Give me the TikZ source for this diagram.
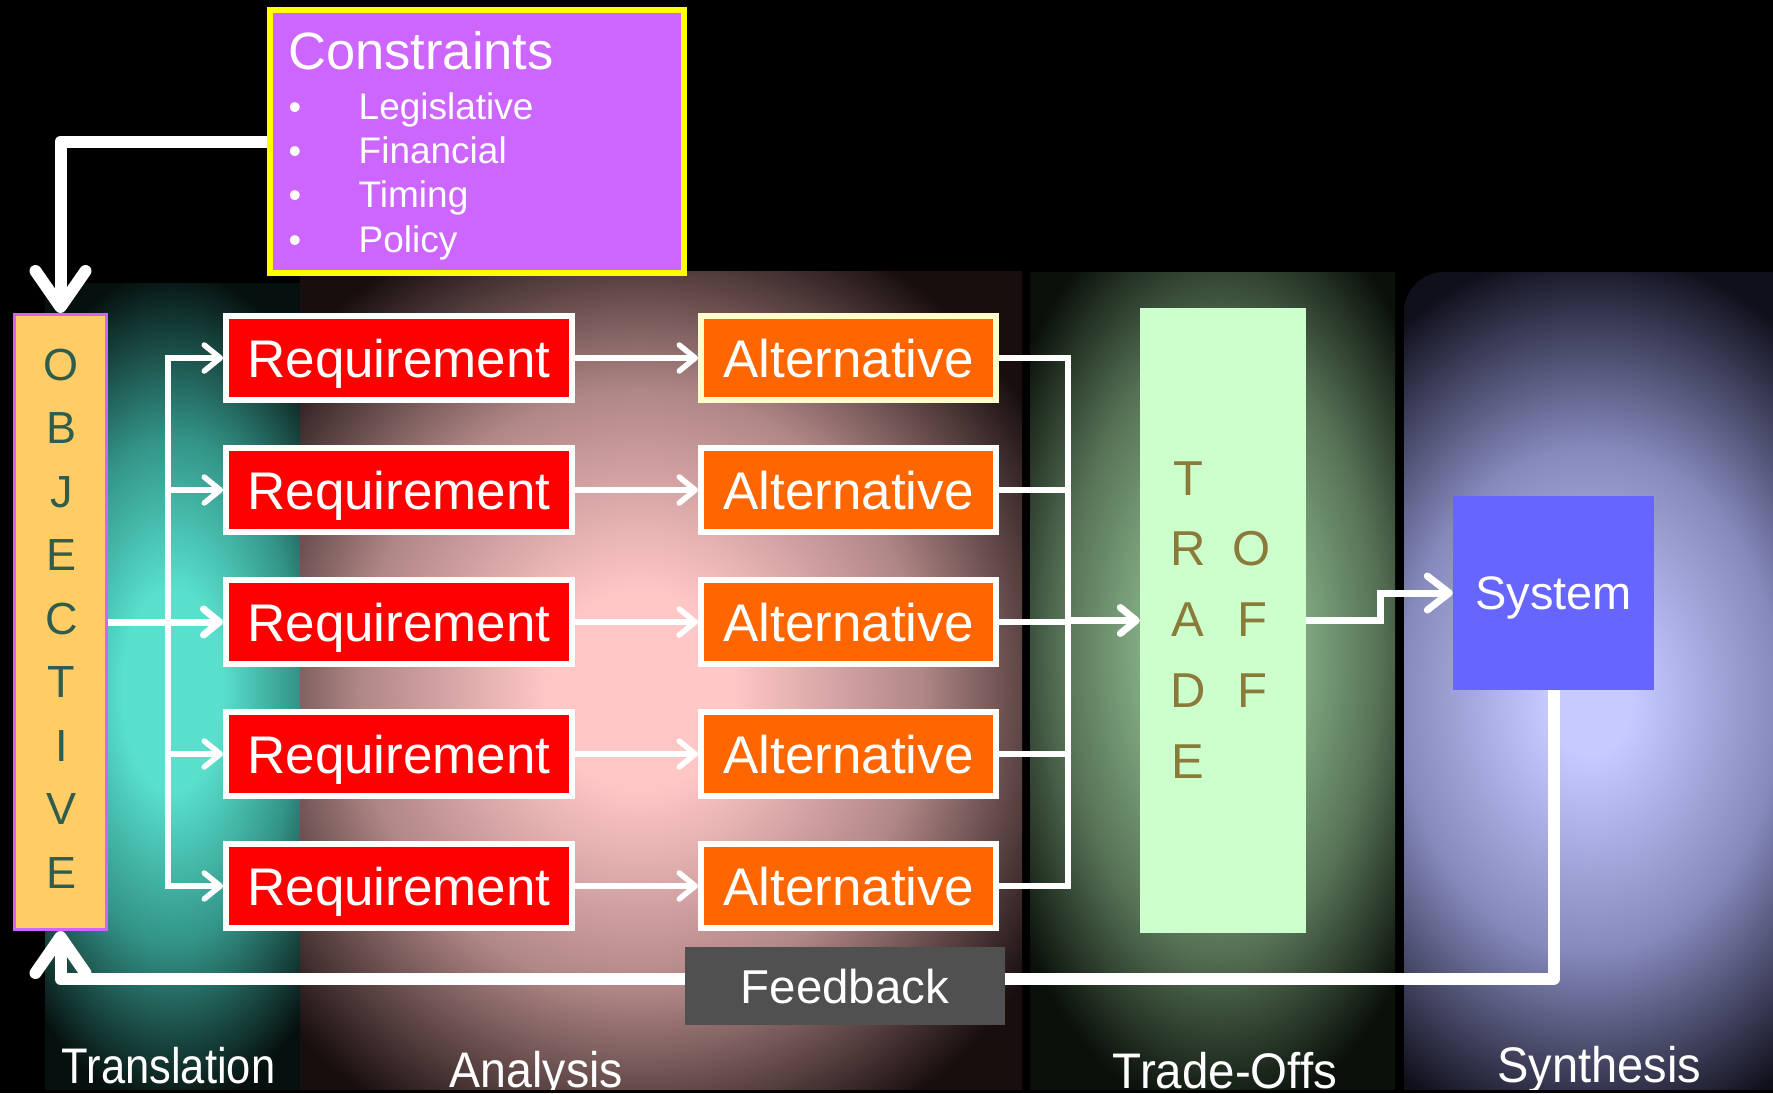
\documentclass[tikz,border=0pt]{standalone}
\usepackage{fontspec}
\setmainfont{Liberation Sans}
\usetikzlibrary{arrows.meta}

% box colours
\definecolor{consfill}{HTML}{CC66FF}
\definecolor{consedge}{HTML}{FFFF00}
\definecolor{objfill}{HTML}{FFCC66}
\definecolor{objedge}{HTML}{CC66FF}
\definecolor{objtext}{HTML}{2F5D4D}
\definecolor{reqfill}{HTML}{FF0000}
\definecolor{altfill}{HTML}{FF6600}
\definecolor{altedge}{HTML}{FFFFCC}
\definecolor{tofill}{HTML}{CCFFCC}
\definecolor{totext}{HTML}{8A7B3A}
\definecolor{sysfill}{HTML}{6666FF}
\definecolor{fbfill}{HTML}{505050}

% phase panel glows
\definecolor{tealA}{HTML}{58E0CC}
\definecolor{tealB}{HTML}{339488}
\definecolor{tealC}{HTML}{06100E}
\definecolor{pinkA}{HTML}{FFC6C6}
\definecolor{pinkB}{HTML}{B08686}
\definecolor{pinkC}{HTML}{180E0E}
\definecolor{greenA}{HTML}{8CB88C}
\definecolor{greenB}{HTML}{567256}
\definecolor{greenC}{HTML}{0A100A}
\definecolor{lilacA}{HTML}{C6CAFF}
\definecolor{lilacB}{HTML}{8589BC}
\definecolor{lilacC}{HTML}{10101C}

\pgfdeclareradialshading{tealglow}{\pgfpoint{0bp}{0bp}}{color(0bp)=(tealA); color(6bp)=(tealA); color(15bp)=(tealB); color(25bp)=(tealC); color(50bp)=(tealC)}
\pgfdeclareradialshading{pinkglow}{\pgfpoint{0bp}{0bp}}{color(0bp)=(pinkA); color(5bp)=(pinkA); color(15bp)=(pinkB); color(25bp)=(pinkC); color(50bp)=(pinkC)}
\pgfdeclareradialshading{greenglow}{\pgfpoint{0bp}{0bp}}{color(0bp)=(greenA); color(6bp)=(greenA); color(16bp)=(greenB); color(25bp)=(greenC); color(50bp)=(greenC)}
\pgfdeclareradialshading{lilacglow}{\pgfpoint{0bp}{0bp}}{color(0bp)=(lilacA); color(3bp)=(lilacA); color(14bp)=(lilacB); color(25bp)=(lilacC); color(50bp)=(lilacC)}

\pgfdeclarelayer{panels}
\pgfdeclarelayer{links}
\pgfsetlayers{panels,links,main}

\tikzset{
  box/.style={rectangle, inner sep=0pt, text depth=0pt, text=white},
  consbox/.style={box, fill=consfill, draw=consedge, line width=6pt,
    minimum width=414pt, minimum height=263pt},
  objbox/.style={box, fill=objfill, draw=objedge, line width=3pt,
    minimum width=92pt, minimum height=615pt},
  reqbox/.style={box, fill=reqfill, draw=white, line width=6pt,
    minimum width=346pt, minimum height=84pt, font=\fontsize{53}{60}\selectfont},
  altbox/.style={reqbox, fill=altfill, minimum width=295pt},
  tobox/.style={box, fill=tofill, minimum width=166pt, minimum height=625pt},
  sysbox/.style={box, fill=sysfill, minimum width=201pt, minimum height=194pt,
    font=\fontsize{47}{54}\selectfont},
  fbbox/.style={box, fill=fbfill, minimum width=320pt, minimum height=78pt,
    font=\fontsize{47.5}{54}\selectfont},
  objletter/.style={anchor=base, inner sep=0pt, text=objtext,
    font=\fontsize{45}{50}\selectfont},
  toletter/.style={anchor=base, inner sep=0pt, text=totext,
    font=\fontsize{49}{54}\selectfont},
  constitle/.style={anchor=base west, inner sep=0pt, text=white,
    font=\fontsize{52.5}{60}\selectfont},
  consitem/.style={anchor=base west, inner sep=0pt, text=white,
    font=\fontsize{37}{42}\selectfont},
  consbullet/.style={anchor=base, inner sep=0pt, text=white,
    font=\fontsize{36}{42}\selectfont},
  phase/.style={anchor=base, inner sep=0pt, text=white,
    font=\fontsize{50}{56}\selectfont},
  lightlink/.style={draw=white, line width=5.5pt},
  midlink/.style={draw=white, line width=7pt},
  heavylink/.style={draw=white, line width=12pt, line join=round},
  tipS/.style={-{Straight Barb[length=16pt,width=26pt,round]}},
  tipM/.style={-{Straight Barb[length=22pt,width=34pt,round]}},
  tipL/.style={-{Straight Barb[length=36pt,width=50pt,round]}},
}

\begin{document}
\begin{tikzpicture}[x=1pt, y=-1pt]
\useasboundingbox (0,0) rectangle (1773,1093);

% ---------- phase panels ----------
\begin{pgfonlayer}{panels}
  \fill[black] (0,0) rectangle (1773,1093);
  \begin{scope}
    \clip (0,0) rectangle (1773,1089);
    \begin{scope}
      \clip (45,283) rectangle (300,1089);
      \shade[shading=tealglow] (-38,270) rectangle (382,1110);
    \end{scope}
    \begin{scope}
      \clip (300,271) rectangle (1022,1089);
      \shade[shading=pinkglow] (170,190) rectangle (1110,1190);
    \end{scope}
    \begin{scope}
      \clip (1030,272) rectangle (1395,1089);
      \shade[shading=greenglow] (970,180) rectangle (1470,1120);
    \end{scope}
    \begin{scope}
      \clip[rounded corners=40pt] (1404,272) rectangle (1830,1140);
      \shade[shading=lilacglow] (1250,250) rectangle (1930,1150);
    \end{scope}
  \end{scope}
\end{pgfonlayer}

% ---------- boxes ----------
\node[consbox] (cons) at (477,141.5) {};
\node[constitle] (cons-title) at (288,69) {Constraints};
\foreach \item/\yy [count=\i] in {Legislative/119, Financial/163, Timing/207, Policy/252}{
  \node[consbullet] (cons-dot-\i) at (295,\yy) {•};
  \node[consitem] (cons-item-\i) at (358.5,\yy) {\item};
}

\node[objbox] (obj) at (60.5,622) {};
\foreach \ch [count=\i] in {O,B,J,E,C,T,I,V,E}{
  \node[objletter] (obj-\i) at (61.5,{380+63.5*(\i-1)}) {\ch};
}

\foreach \k in {1,...,5}{
  \node[reqbox] (req\k) at (399,{358+132*(\k-1)}) {Requirement};
  \node[altbox] (alt\k) at (848.5,{358+132*(\k-1)}) {Alternative};
}
\node[altbox, draw=altedge] at (alt1) {Alternative};

\node[tobox] (trade) at (1223,620.5) {};
\foreach \ch/\xx/\yy [count=\i] in {T/1188/495, R/1188/565, A/1188/636, D/1188/707, E/1188/778,
                                   O/1252/565, F/1252/636, F/1252/707}{
  \node[toletter] (trade-\i) at (\xx,\yy) {\ch};
}

\node[sysbox] (sys) at (1553.5,593) {System};
\node[fbbox] (fb) at (845,986) {Feedback};

% ---------- phase labels ----------
\begin{scope}
  \clip (0,0) rectangle (1773,1089);
  \node[phase] (lbl-translation) at (168.5,1083) {\scalebox{0.87}[1]{Translation}};
  \node[phase] (lbl-analysis) at (536.5,1087) {\scalebox{0.93}[1]{Analysis}};
  \node[phase] (lbl-tradeoffs) at (1225,1088) {\scalebox{0.95}[1]{Trade-Offs}};
  \node[phase] (lbl-synthesis) at (1599.5,1082) {\scalebox{0.94}[1]{Synthesis}};
\end{scope}

% ---------- connectors ----------
\coordinate (busL) at (168,622);
\coordinate (busR) at (1068,622);
\coordinate (kink) at (1380,600);
\coordinate (fbline) at (845,979);

\begin{pgfonlayer}{links}
  \draw[heavylink, tipL] (cons.west) -| (obj.north);
  \draw[heavylink, tipL] (sys.south) |- (fbline) -| (obj.south);

  \draw[lightlink, line cap=rect] (busL |- req1.west) -- (busL |- req5.west);
  \foreach \k in {1,2,4,5}{
    \draw[lightlink, tipS] (busL |- req\k.west) -- (req\k.west);
  }
  \draw[midlink, tipS] (obj.east) -- (req3.west);

  \foreach \k in {1,...,5}{
    \draw[lightlink, tipS] (req\k.east) -- (alt\k.west);
  }

  \draw[lightlink] (alt1.east) -| (busR |- alt5.east) -- (alt5.east);
  \foreach \k in {2,3,4}{
    \draw[lightlink] (alt\k.east) -- (busR |- alt\k.east);
  }
  \draw[midlink, tipS] (busR |- trade.west) -- (trade.west);

  \draw[midlink, tipM] (trade.east) -- (trade.east -| kink) |- (sys.west);
\end{pgfonlayer}
\end{tikzpicture}
\end{document}
